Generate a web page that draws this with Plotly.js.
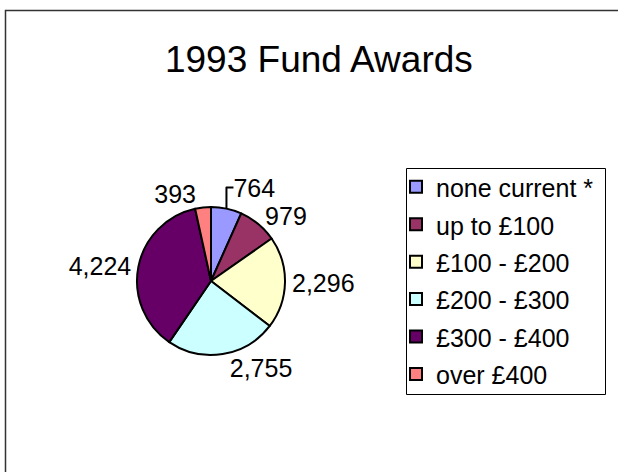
<!DOCTYPE html>
<html>
<head>
<meta charset="utf-8">
<script src="https://cdn.plot.ly/plotly-3.0.1.min.js"></script>
<style>html,body{margin:0;padding:0;background:#fff;}#chart{width:618px;height:472px;}</style>
</head>
<body>
<div id="chart"></div>
<script>
const categories = ["none current *", "up to £100", "£100 - £200", "£200 - £300", "£300 - £400", "over £400"];
const awards = [764, 979, 2296, 2755, 4224, 393];
const sliceColors = ["#9999FF", "#993366", "#FFFFCC", "#CCFFFF", "#660066", "#FF8080"];
const chartTitle = "1993 Fund Awards";

const W = 618, H = 472;
const cx = 211, cy = 281, r = 74;
const FONT = "Liberation Sans, Arial, sans-serif";

const trace = {
  type: "pie",
  labels: categories.map(c => '<span style="font-size:25px">' + c + '</span>'),
  values: awards,
  sort: false,
  direction: "clockwise",
  rotation: 0,
  marker: {colors: sliceColors, line: {color: "#000000", width: 2}},
  texttemplate: "%{value:,}",
  textposition: "outside",
  textfont: {family: FONT, size: 25, color: "#000"},
  hoverinfo: "none",
  domain: {x: [(cx - r) / W, (cx + r) / W], y: [1 - (cy + r) / H, 1 - (cy - r) / H]}
};

const layout = {
  width: W, height: H,
  margin: {l: 0, r: 0, t: 0, b: 0},
  paper_bgcolor: "#ffffff",
  font: {family: FONT, color: "#000"},
  title: {text: chartTitle, font: {size: 37, color: "#000"}, x: 0.516, xanchor: "center", y: 1 - 59 / H, yanchor: "middle"},
  showlegend: true,
  legend: {
    x: 396 / W, y: 1 - 163 / H, xanchor: "left", yanchor: "top",
    bgcolor: "rgba(0,0,0,0)", borderwidth: 0,
    font: {family: FONT, size: 26.5, color: "#000"},
    traceorder: "normal"
  },
  shapes: [
    {type: "rect", xref: "paper", yref: "paper", x0: 5.5 / W, x1: 1.05, y0: -0.05, y1: 1 - 10.5 / H,
     line: {color: "#333333", width: 1.5}, fillcolor: "rgba(0,0,0,0)", layer: "below"},
    {type: "rect", xref: "paper", yref: "paper", x0: 406.5 / W, x1: 605.5 / W, y0: 1 - 394.5 / H, y1: 1 - 168.5 / H,
     line: {color: "#000000", width: 1}, fillcolor: "#ffffff", layer: "below"}
  ]
};

Plotly.newPlot("chart", [trace], layout, {displayModeBar: false, staticPlot: true});
</script>
</body>
</html>
